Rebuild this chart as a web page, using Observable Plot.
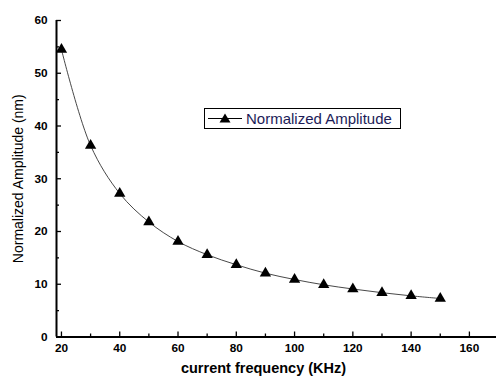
<!DOCTYPE html>
<html>
<head>
<meta charset="utf-8">
<script src="https://cdn.jsdelivr.net/npm/d3@7"></script>
<script src="https://cdn.jsdelivr.net/npm/@observablehq/plot@0.6"></script>
<style>
  html, body { margin: 0; padding: 0; background: #fff; }
  #wrap { position: relative; width: 496px; height: 379px; font-family: "Liberation Sans", Arial, sans-serif; }
  #legend { position: absolute; left: 204px; top: 108px; width: 195px; height: 19px; border: 1px solid #000; background: #fff; display: flex; align-items: center; white-space: nowrap; overflow: hidden; }
  #legend span { font-size: 15px; color: #1c1c58; margin-left: 2px; }
</style>
</head>
<body>
<div id="wrap"></div>
<script>
const frequency = [20, 30, 40, 50, 60, 70, 80, 90, 100, 110, 120, 130, 140, 150];
const amplitude = [54.5, 36.3, 27.2, 21.8, 18.1, 15.6, 13.7, 12.1, 10.9, 9.9, 9.1, 8.4, 7.8, 7.3];
const xMajorTicks = [20, 40, 60, 80, 100, 120, 140, 160];
const xMinorTicks = [30, 50, 70, 90, 110, 130, 150];
const yMajorTicks = [0, 10, 20, 30, 40, 50, 60];
const yMinorTicks = [5, 15, 25, 35, 45, 55];
const seriesName = "Normalized Amplitude";
const xLabel = "current frequency (KHz)";
const yLabel = "Normalized Amplitude (nm)";

const data = frequency.map((f, i) => ({f, a: amplitude[i]}));
const xDomain = [18.3, 169.3];
const yDomain = [0, 60];
const blank = () => "";

const chart = Plot.plot({
  width: 496,
  height: 379,
  marginLeft: 56,
  marginRight: 0,
  marginTop: 20,
  marginBottom: 42.5,
  style: {fontFamily: "'Liberation Sans', Arial, sans-serif", color: "#000", background: "#fff"},
  x: {domain: xDomain, axis: null},
  y: {domain: yDomain, axis: null},
  marks: [
    Plot.axisX(xMajorTicks, {anchor: "bottom", tickSize: 0, tickPadding: 7, fontSize: 11.8, fontWeight: "bold", label: null}),
    Plot.axisY(yMajorTicks, {anchor: "left", tickSize: 0, tickPadding: 9, fontSize: 11.8, fontWeight: "bold", label: null}),
    Plot.axisX(xMajorTicks, {anchor: "bottom", tickSize: 5, dy: -5, strokeWidth: 1.3, tickFormat: blank, label: null}),
    Plot.axisX(xMinorTicks, {anchor: "bottom", tickSize: 3, dy: -3, strokeWidth: 1.3, tickFormat: blank, label: null}),
    Plot.axisY(yMajorTicks, {anchor: "left", tickSize: 5, dx: 5, strokeWidth: 1.3, tickFormat: blank, label: null}),
    Plot.axisY(yMinorTicks, {anchor: "left", tickSize: 3, dx: 3, strokeWidth: 1.3, tickFormat: blank, label: null}),
    Plot.ruleY([0], {stroke: "#000", strokeWidth: 2}),
    Plot.ruleX([xDomain[0]], {y1: yDomain[0], y2: yDomain[1], stroke: "#000", strokeWidth: 2}),
    Plot.line(data, {x: "f", y: "a", curve: "catmull-rom", stroke: "#333", strokeWidth: 0.9}),
    Plot.dot(data, {x: "f", y: "a", symbol: "triangle", r: 4.2, fill: "#000", stroke: "none"}),
    Plot.text([xLabel], {frameAnchor: "bottom", dy: 36, dx: -13, fontSize: 14.5, fontWeight: "bold"}),
    Plot.text([yLabel], {frameAnchor: "left", textAnchor: "middle", rotate: -90, dx: -38, fontSize: 14})
  ]
});

const wrap = document.getElementById("wrap");
wrap.appendChild(chart);

const legend = document.createElement("div");
legend.id = "legend";
legend.innerHTML = `<svg width="39" height="19" style="flex:none"><line x1="3" y1="9.5" x2="37" y2="9.5" stroke="#000" stroke-width="1"/><path d="M20,4.5 L25.5,13.5 L14.5,13.5 Z" fill="#000"/></svg><span>${seriesName}</span>`;
wrap.appendChild(legend);
</script>
</body>
</html>
